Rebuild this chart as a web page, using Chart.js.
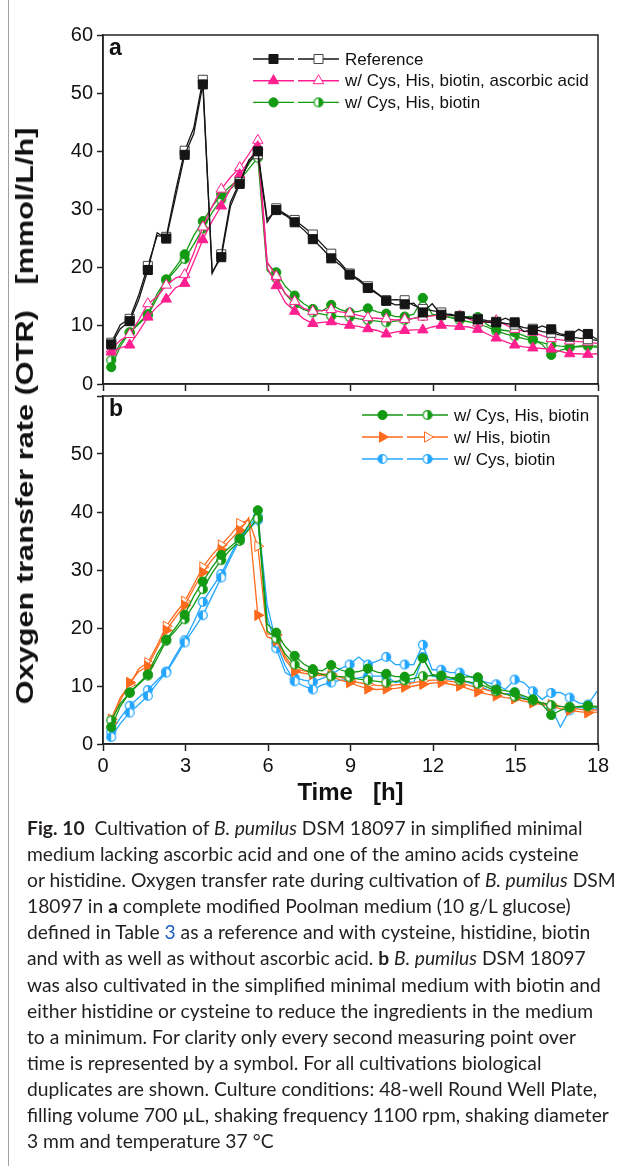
<!DOCTYPE html>
<html>
<head>
<meta charset="utf-8">
<script src="https://cdn.jsdelivr.net/npm/chart.js@4.4.1/dist/chart.umd.min.js"></script>
<style>
  html, body { margin: 0; padding: 0; background: #fff; }
  body { width: 630px; height: 1166px; position: relative; overflow: hidden; font-family: "Liberation Sans", Arial, sans-serif; }
  #frame { position: absolute; left: 8px; top: 0; height: 1166px; border-left: 1.5px solid #a0a0a0; }
  .wrap { position: absolute; left: 0; width: 630px; }
  #wa { top: 0; height: 400px; }
  #wb { top: 380px; height: 440px; }
  .tag { position: absolute; font-weight: bold; font-size: 23px; color: #111; }
  #ytitle { position: absolute; left: 25px; top: 416px; font-weight: bold; font-size: 24px; white-space: pre; color: #111; }
  #caption { position: absolute; left: 27px; top: 815px; font-family: Lato, "Open Sans", sans-serif; font-size: 19.5px;
             line-height: 26.1px; color: #231f20; white-space: nowrap; transform-origin: 0 0; }
  #caption b { font-weight: bold; }
  #caption .ref { color: #1f5fbf; }
</style>
</head>
<body>
<div id="frame"></div>
<div class="wrap" id="wa"><canvas id="chartA"></canvas></div>
<div class="wrap" id="wb"><canvas id="chartB"></canvas></div>
<div class="tag" style="left:109px; top:34px;">a</div>
<div class="tag" style="left:109px; top:395px;">b</div>
<div id="ytitle">Oxygen transfer rate (OTR)   [mmol/L/h]</div>
<div id="caption">
  <div><b>Fig. 10</b>&nbsp; Cultivation of <i>B. pumilus</i> DSM 18097 in simplified minimal</div>
  <div>medium lacking ascorbic acid and one of the amino acids cysteine</div>
  <div>or histidine. Oxygen transfer rate during cultivation of <i>B. pumilus</i> DSM</div>
  <div>18097 in <b>a</b> complete modified Poolman medium (10 g/L glucose)</div>
  <div>defined in Table <span class="ref">3</span> as a reference and with cysteine, histidine, biotin</div>
  <div>and with as well as without ascorbic acid. <b>b</b> <i>B. pumilus</i> DSM 18097</div>
  <div id="capRef">was also cultivated in the simplified minimal medium with biotin and</div>
  <div>either histidine or cysteine to reduce the ingredients in the medium</div>
  <div>to a minimum. For clarity only every second measuring point over</div>
  <div>time is represented by a symbol. For all cultivations biological</div>
  <div>duplicates are shown. Culture conditions: 48-well Round Well Plate,</div>
  <div>filling volume 700 µL, shaking frequency 1100 rpm, shaking diameter</div>
  <div>3 mm and temperature 37 °C</div>
</div>

<script>
// sampling times [h], one measurement every 20 min
const times = [0.30, 0.63, 0.97, 1.30, 1.63, 1.97, 2.30, 2.63, 2.97, 3.30,
  3.63, 3.97, 4.30, 4.63, 4.97, 5.30, 5.63, 5.97, 6.30, 6.63,
  6.97, 7.30, 7.63, 7.97, 8.30, 8.63, 8.97, 9.30, 9.63, 9.97,
  10.30, 10.63, 10.97, 11.30, 11.63, 11.97, 12.30, 12.63, 12.97, 13.30,
  13.63, 13.97, 14.30, 14.63, 14.97, 15.30, 15.63, 15.97, 16.30, 16.63,
  16.97, 17.30, 17.63, 17.97];

// OTR [mmol/L/h]
const reference1 = [6.8, 9.5, 10.8, 14.5, 19.6, 26.0, 25.0, 32.0, 39.4, 43.0,
  51.5, 19.2, 21.8, 30.5, 34.4, 38.5, 40.0, 28.3, 29.9, 29.0,
  27.8, 26.5, 24.9, 23.3, 21.6, 20.4, 18.8, 17.8, 16.5, 15.5,
  14.3, 13.6, 13.7, 13.9, 12.3, 13.8, 11.9, 12.0, 11.6, 11.3,
  11.1, 10.6, 10.6, 11.3, 10.6, 9.0, 9.3, 10.0, 9.4, 8.6,
  8.3, 9.4, 8.6, 7.7];
const reference2 = [7.1, 10.2, 11.2, 15.3, 20.3, 25.5, 25.3, 33.0, 40.1, 44.0,
  52.3, 19.0, 22.3, 31.2, 34.7, 38.2, 39.5, 27.8, 30.2, 29.2,
  28.2, 27.0, 25.7, 24.0, 22.4, 20.8, 19.0, 18.0, 16.8, 15.6,
  14.4, 14.5, 14.4, 13.5, 12.9, 12.6, 12.3, 11.8, 11.7, 11.4,
  11.2, 10.9, 10.7, 10.4, 10.2, 9.7, 9.5, 9.0, 8.8, 8.4,
  8.1, 7.9, 7.7, 7.5];
const cysHisBiotinAsc1 = [5.5, 6.2, 6.7, 9.0, 11.5, 13.3, 14.6, 16.5, 17.3, 21.0,
  24.8, 28.0, 30.6, 33.5, 36.0, 38.3, 40.8, 20.0, 16.9, 14.0,
  12.5, 11.2, 10.4, 10.6, 10.7, 10.3, 10.1, 9.9, 9.5, 9.2,
  8.6, 8.9, 9.2, 9.3, 9.3, 9.8, 10.1, 10.0, 9.9, 9.8,
  9.4, 8.6, 7.9, 7.3, 6.7, 6.4, 6.2, 6.1, 6.0, 5.6,
  5.2, 5.2, 5.1, 5.2];
const cysHisBiotinAsc2 = [6.0, 7.5, 8.5, 11.0, 13.8, 15.0, 17.0, 18.2, 18.8, 22.5,
  27.0, 30.5, 33.5, 35.5, 37.2, 39.5, 41.9, 21.0, 18.5, 15.5,
  14.2, 13.0, 12.5, 12.6, 12.8, 12.4, 12.2, 11.8, 11.4, 11.3,
  11.2, 11.0, 11.1, 11.3, 11.5, 11.7, 11.9, 11.8, 11.7, 11.2,
  10.5, 10.7, 10.9, 10.2, 9.4, 9.1, 8.9, 8.3, 7.8, 7.6,
  7.4, 7.3, 7.2, 7.0];
const cysHisBiotin1 = [2.9, 6.5, 8.9, 10.5, 12.0, 15.5, 18.0, 20.0, 22.3, 25.5,
  28.0, 30.5, 32.6, 34.0, 35.4, 37.8, 40.3, 20.7, 19.2, 16.8,
  15.2, 13.8, 12.9, 12.6, 13.6, 12.8, 12.3, 12.5, 13.0, 12.4,
  12.1, 11.6, 11.6, 12.0, 14.8, 12.0, 11.7, 11.5, 11.4, 11.6,
  11.5, 10.2, 9.4, 9.2, 8.9, 8.3, 7.7, 6.8, 5.0, 5.8,
  6.3, 6.5, 6.6, 6.5];
const cysHisBiotin2 = [4.1, 7.0, 8.8, 10.3, 11.8, 14.8, 17.8, 19.5, 21.5, 24.0,
  26.7, 29.5, 31.7, 33.5, 35.0, 37.0, 38.9, 19.5, 18.2, 15.5,
  13.7, 12.8, 12.3, 12.0, 11.7, 11.6, 11.5, 11.2, 11.0, 10.8,
  10.6, 10.8, 11.0, 11.3, 11.7, 11.8, 11.8, 11.4, 11.0, 10.7,
  10.4, 9.8, 9.1, 8.6, 8.2, 7.8, 7.5, 7.1, 6.7, 6.5,
  6.4, 6.4, 6.5, 6.3];
const hisBiotin1 = [3.7, 7.5, 10.6, 12.5, 13.4, 16.5, 19.6, 21.8, 23.9, 26.8,
  29.6, 31.8, 33.5, 35.2, 36.8, 39.0, 22.2, 18.5, 17.8, 14.5,
  12.5, 12.2, 12.0, 11.8, 11.7, 11.0, 10.6, 10.0, 9.5, 9.4,
  9.5, 9.6, 9.8, 10.0, 10.3, 10.5, 10.6, 10.3, 10.0, 9.5,
  9.0, 8.6, 8.3, 8.0, 7.8, 7.4, 7.1, 6.8, 6.5, 6.1,
  5.8, 5.6, 5.4, 5.5];
const hisBiotin2 = [4.3, 8.0, 10.2, 13.0, 14.0, 17.0, 20.3, 22.5, 24.6, 27.5,
  30.5, 32.6, 34.3, 36.0, 38.0, 38.6, 34.1, 19.0, 18.8, 15.0,
  13.0, 12.6, 12.3, 12.1, 12.0, 11.5, 11.0, 10.6, 10.3, 10.1,
  10.0, 10.2, 10.3, 10.6, 10.9, 11.0, 11.0, 10.8, 10.6, 10.1,
  9.7, 9.3, 8.9, 8.6, 8.3, 7.8, 7.4, 7.1, 6.8, 6.5,
  6.2, 6.0, 5.8, 5.9];
const cysBiotin1 = [1.2, 3.5, 5.4, 6.8, 8.3, 10.5, 12.3, 14.8, 17.5, 19.8,
  22.2, 25.5, 28.7, 32.0, 35.2, 37.5, 39.2, 24.0, 17.4, 13.4,
  10.8, 10.0, 9.4, 10.2, 10.6, 11.0, 11.1, 11.4, 11.7, 11.7,
  11.7, 10.6, 10.9, 10.6, 15.0, 11.7, 11.4, 11.1, 11.1, 10.6,
  10.0, 9.4, 8.9, 8.6, 8.9, 8.0, 7.4, 7.1, 6.3, 2.9,
  5.8, 6.3, 6.2, 6.0];
const cysBiotin2 = [2.1, 4.5, 6.6, 8.0, 9.3, 11.0, 12.5, 15.2, 17.9, 21.0,
  24.5, 27.0, 29.3, 32.5, 35.8, 37.0, 38.6, 22.0, 16.5, 12.3,
  11.4, 11.0, 10.7, 11.3, 11.9, 13.0, 13.7, 15.0, 13.7, 14.3,
  15.0, 13.7, 13.7, 13.7, 17.1, 12.8, 12.8, 12.3, 12.3, 11.7,
  11.1, 10.6, 10.3, 9.4, 11.1, 10.6, 9.1, 7.7, 8.8, 8.9,
  8.0, 7.1, 6.8, 9.1];

const xTicks = [0, 3, 6, 9, 12, 15, 18];
const yTicks = [0, 10, 20, 30, 40, 50, 60];

const BLACK = '#151515', PINK = '#ff1f8e', GREEN = '#139a13', ORANGE = '#ff6a1c', BLUE = '#22a6ff';

function halfDot(color, side, r) {
  const c = document.createElement('canvas');
  const s = Math.ceil(r * 2 + 3);
  c.width = c.height = s;
  const g = c.getContext('2d');
  const m = s / 2;
  g.fillStyle = '#fff';
  g.beginPath(); g.arc(m, m, r, 0, Math.PI * 2); g.fill();
  g.fillStyle = color;
  g.beginPath();
  if (side === 'right') g.arc(m, m, r, -Math.PI / 2, Math.PI / 2);
  else g.arc(m, m, r, Math.PI / 2, Math.PI * 1.5);
  g.closePath(); g.fill();
  g.strokeStyle = color; g.lineWidth = 1.2;
  g.beginPath(); g.arc(m, m, r, 0, Math.PI * 2); g.stroke();
  return c;
}

function series(label, values, color, mk) {
  return {
    label: label,
    data: values.map((v, i) => ({x: times[i], y: v})),
    borderColor: color,
    borderWidth: 1.3,
    pointStyle: mk.style,
    pointRotation: mk.rotation || 0,
    pointBackgroundColor: mk.fill,
    pointBorderColor: mk.stroke || color,
    pointBorderWidth: 1,
    // only every second measuring point gets a symbol
    pointRadius: ctx => ctx.dataIndex % 2 === 0 ? mk.r : 0,
    mk: mk,
    fill: false,
    tension: 0
  };
}

const mSqFull = {style: 'rect', fill: BLACK, r: 6.4};
const mSqOpen = {style: 'rect', fill: '#fff', stroke: '#444', r: 6.4};
const mTriFull = {style: 'triangle', fill: PINK, r: 6};
const mTriOpen = {style: 'triangle', fill: '#fff', r: 6};
const mDotFull = {style: 'circle', fill: GREEN, r: 4.6};
const mDotHalf = {style: halfDot(GREEN, 'right', 4.4), fill: '#fff', r: 4.6};
const mArrFull = {style: 'triangle', rotation: 90, fill: ORANGE, r: 6};
const mArrOpen = {style: 'triangle', rotation: 90, fill: '#fff', r: 6};
const mBlueL = {style: halfDot(BLUE, 'left', 4.4), fill: '#fff', r: 4.6};
const mBlueR = {style: halfDot(BLUE, 'right', 4.4), fill: '#fff', r: 4.6};

// frame around plot area
const framePlugin = {
  id: 'frame',
  afterDraw(chart) {
    const a = chart.chartArea, ctx = chart.ctx;
    ctx.save();
    ctx.strokeStyle = '#222';
    ctx.lineWidth = 1.5;
    ctx.strokeRect(a.left, a.top, a.right - a.left, a.bottom - a.top);
    ctx.restore();
  }
};

// legend with both duplicates side by side, then the label
const pairLegend = {
  id: 'pairLegend',
  afterDraw(chart, args, o) {
    const ctx = chart.ctx;
    const sets = chart.data.datasets;
    ctx.save();
    for (let i = 0; i * 2 < sets.length; i++) {
      const y = o.y + i * o.row;
      for (let j = 0; j < 2; j++) {
        const d = sets[i * 2 + j];
        const x1 = o.x + j * (o.seg + o.gap);
        ctx.strokeStyle = d.borderColor;
        ctx.lineWidth = 1.4;
        ctx.beginPath(); ctx.moveTo(x1, y); ctx.lineTo(x1 + o.seg, y); ctx.stroke();
        ctx.fillStyle = d.mk.fill;
        ctx.strokeStyle = d.mk.stroke || d.borderColor;
        ctx.lineWidth = 1;
        Chart.helpers.drawPoint(ctx, {pointStyle: d.mk.style, rotation: d.mk.rotation || 0,
          radius: d.mk.r, borderWidth: 1}, x1 + o.seg / 2, y);
      }
      ctx.fillStyle = '#111';
      ctx.font = '17px "Liberation Sans", Arial, sans-serif';
      ctx.textBaseline = 'middle';
      ctx.fillText(sets[i * 2].label, o.x + 2 * o.seg + o.gap + 6, y + 1);
    }
    ctx.restore();
  }
};

function makePanel(canvas, datasets, cfg) {
  return new Chart(canvas, {
    type: 'line',
    data: {datasets: datasets},
    plugins: [framePlugin, pairLegend],
    options: {
      responsive: true,
      maintainAspectRatio: false,
      animation: false,
      events: [],
      layout: {padding: {top: cfg.padTop, right: 32, bottom: 0, left: 0}},
      plugins: {
        legend: {display: false},
        tooltip: {enabled: false},
        pairLegend: cfg.legend
      },
      scales: {
        x: {
          type: 'linear', min: 0, max: 18,
          afterBuildTicks: s => { s.ticks = xTicks.map(v => ({value: v})); },
          afterFit: s => { s.height = cfg.xHeight; },
          grid: {drawOnChartArea: false, drawTicks: true, tickLength: 7, tickColor: '#222', tickWidth: 1.5},
          border: {display: true, color: '#222', width: 1.5},
          ticks: {display: cfg.xLabels, color: '#111', padding: 3, maxRotation: 0,
                  font: {size: 20, family: '"Liberation Sans", Arial, sans-serif'}},
          title: {display: cfg.xLabels, text: 'Time   [h]', color: '#111',
                  font: {size: 24, weight: 'bold', family: '"Liberation Sans", Arial, sans-serif'},
                  padding: {top: 0, bottom: cfg.titlePad}}
        },
        y: {
          min: 0, max: 60,
          afterBuildTicks: s => { s.ticks = yTicks.map(v => ({value: v})); },
          afterFit: s => { s.width = 103; },
          grid: {drawOnChartArea: false, drawTicks: true, tickLength: 6, tickColor: '#222', tickWidth: 1.5},
          border: {display: true, color: '#222', width: 1.5},
          ticks: {color: '#111', padding: 4,
                  font: {size: 20, family: '"Liberation Sans", Arial, sans-serif'},
                  callback: v => (cfg.hideTop && v === 60) ? '' : v}
        }
      }
    }
  });
}

makePanel(document.getElementById('chartA'), [
  series('Reference', reference1, BLACK, mSqFull),
  series('Reference', reference2, BLACK, mSqOpen),
  series('w/ Cys, His, biotin, ascorbic acid', cysHisBiotinAsc1, PINK, mTriFull),
  series('w/ Cys, His, biotin, ascorbic acid', cysHisBiotinAsc2, PINK, mTriOpen),
  series('w/ Cys, His, biotin', cysHisBiotin1, GREEN, mDotFull),
  series('w/ Cys, His, biotin', cysHisBiotin2, GREEN, mDotHalf)
], {padTop: 35, xHeight: 10, xLabels: false, hideTop: false, titlePad: 0,
    legend: {x: 253, y: 59, row: 21.7, seg: 41, gap: 4}});

makePanel(document.getElementById('chartB'), [
  series('w/ Cys, His, biotin', cysHisBiotin1, GREEN, mDotFull),
  series('w/ Cys, His, biotin', cysHisBiotin2, GREEN, mDotHalf),
  series('w/ His, biotin', hisBiotin1, ORANGE, mArrFull),
  series('w/ His, biotin', hisBiotin2, ORANGE, mArrOpen),
  series('w/ Cys, biotin', cysBiotin1, BLUE, mBlueL),
  series('w/ Cys, biotin', cysBiotin2, BLUE, mBlueR)
], {padTop: 10, xHeight: 76, xLabels: true, hideTop: true, titlePad: 12,
    legend: {x: 362, y: 35, row: 22, seg: 41, gap: 4}});

// y title spans both panels: stretch it to the printed length
const yt = document.getElementById('ytitle');
const ytw = yt.scrollWidth;
yt.style.transform = 'translate(-50%, -50%) rotate(-90deg) scaleX(' + (577 / ytw) + ')';

// squeeze the caption so its long lines end where the printed ones do
const cap = document.getElementById('caption');
const inner = document.getElementById('capRef').scrollWidth;
cap.style.transform = 'scaleX(' + (589 / inner) + ')';
</script>
</body>
</html>
